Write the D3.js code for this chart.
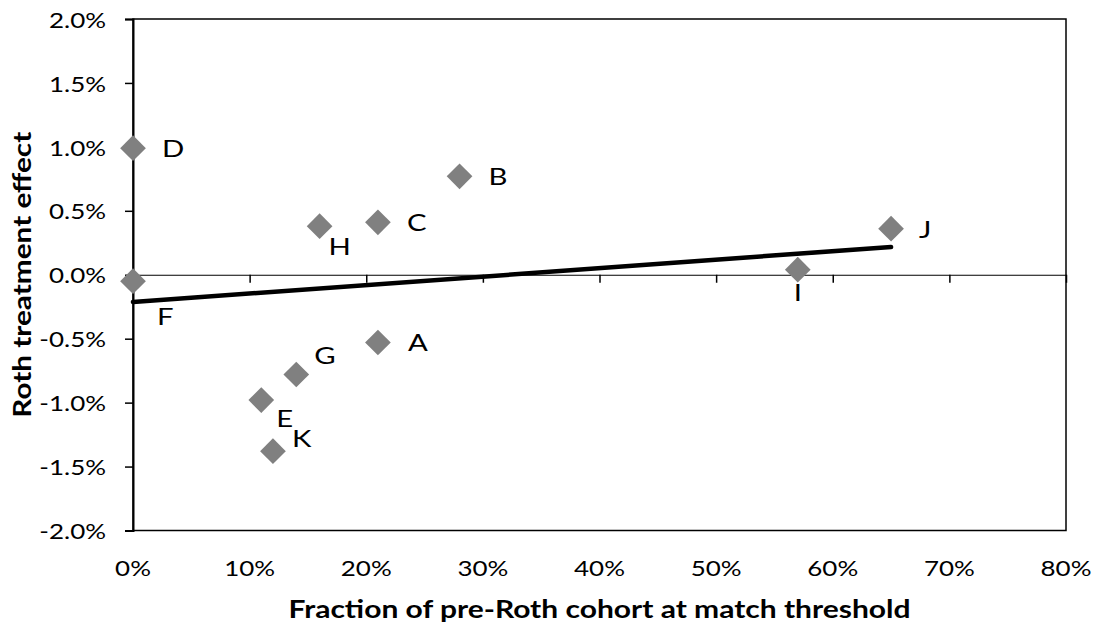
<!DOCTYPE html>
<html>
<head>
<meta charset="utf-8">
<script src="https://cdn.jsdelivr.net/npm/d3@7"></script>
<style>
  html, body { margin: 0; padding: 0; background: #fff; }
  svg { display: block; }
  text { font-family: Lato, "Open Sans", sans-serif; fill: #000; }
</style>
</head>
<body>
<svg id="chart" width="1094" height="624"></svg>
<script>
// ---- data ----
const labels  = ["A", "B", "C", "D", "E", "F", "G", "H", "I", "J", "K"];
const xValues = [0.21, 0.28, 0.21, 0.00, 0.11, 0.00, 0.14, 0.16, 0.57, 0.65, 0.12];
const yValues = [-0.0053, 0.0077, 0.0041, 0.0099, -0.0098, -0.0005, -0.0078, 0.0038, 0.0004, 0.0036, -0.0138];
const trendX  = [0.00, 0.65];
const trendY  = [-0.00213, 0.00217];
const xTicks  = [0, 0.1, 0.2, 0.3, 0.4, 0.5, 0.6, 0.7, 0.8];
const yTicks  = [-0.02, -0.015, -0.01, -0.005, 0, 0.005, 0.01, 0.015, 0.02];
const xTitle  = "Fraction of pre-Roth cohort at match threshold";
const yTitle  = "Roth treatment effect";

// ---- layout (label placement offsets, px) ----
const labelOffset = {
  A: [30, 0], B: [29, 0], C: [29, 0], D: [29, 0], J: [28, 0],
  G: [18, -19], H: [9, 20], E: [15, 18], K: [19, -13], F: [24, 35], I: [-4, 22]
};

const plot = { left: 133, right: 1066, top: 19, bottom: 530.5 };
const svg = d3.select("#chart");

const x = d3.scaleLinear().domain([0, 0.8]).range([plot.left, plot.right]);
const y = d3.scaleLinear().domain([-0.02, 0.02]).range([plot.bottom, plot.top]);

const loc = d3.formatLocale({ decimal: ".", thousands: ",", grouping: [3], currency: ["$", ""], minus: "-", percent: "%" });

function place(sel, px, py, sx, rot) {
  sel.attr("x", 0).attr("y", 0)
     .attr("transform", `translate(${px},${py})` + (rot ? ` rotate(${rot})` : "") + ` scale(${sx},1)`);
  return sel;
}

// plot border
svg.append("rect")
  .attr("x", plot.left).attr("y", plot.top)
  .attr("width", plot.right - plot.left).attr("height", plot.bottom - plot.top)
  .attr("fill", "none").attr("stroke", "#000").attr("stroke-width", 1.5);

// y axis (ticks to the left)
const yAxis = d3.axisLeft(y).tickValues(yTicks).tickSize(8).tickFormat("");
const yg = svg.append("g").attr("transform", `translate(${plot.left},0)`).call(yAxis);
yg.select(".domain").attr("stroke-width", 2);
yg.selectAll(".tick line").attr("stroke-width", 1.5);
const yFmt = loc.format(".1%");
yTicks.forEach(v => {
  place(svg.append("text"), 106, y(v), 1.18, 0)
    .attr("text-anchor", "end").attr("dominant-baseline", "central")
    .style("font-size", "22px").text(yFmt(v));
});

// horizontal zero axis with ticks downward
const xAxis = d3.axisBottom(x).tickValues(xTicks).tickSize(8).tickFormat("").tickSizeOuter(0);
const xg = svg.append("g").attr("transform", `translate(0,${y(0)})`).call(xAxis);
xg.select(".domain").attr("stroke-width", 1.2);
xg.selectAll(".tick line").attr("stroke-width", 1.5);
const xFmt = loc.format(".0%");
xTicks.forEach(v => {
  place(svg.append("text"), x(v), 567, 1.18, 0)
    .attr("text-anchor", "middle").attr("dominant-baseline", "central")
    .style("font-size", "22px").text(xFmt(v));
});

// trend line
svg.append("path")
  .datum(trendX.map((v, i) => [v, trendY[i]]))
  .attr("d", d3.line().x(d => x(d[0])).y(d => y(d[1])))
  .attr("fill", "none").attr("stroke", "#000").attr("stroke-width", 4.5)
  .attr("stroke-linecap", "round");

// markers
const pts = labels.map((l, i) => ({ label: l, x: xValues[i], y: yValues[i] }));
const diamond = d3.symbol().type(d3.symbolSquare).size(330);
svg.append("g").selectAll("path").data(pts).join("path")
  .attr("d", diamond)
  .attr("transform", d => `translate(${x(d.x)},${y(d.y)}) rotate(45)`)
  .attr("fill", "#808080");

// point labels
pts.forEach(d => {
  const o = labelOffset[d.label];
  place(svg.append("text"), x(d.x) + o[0], y(d.y) + o[1], 1.22, 0)
    .attr("dominant-baseline", "central")
    .style("font-size", "24px").text(d.label);
});

// axis titles
place(svg.append("text"), (plot.left + plot.right) / 2, 609, 1.25, 0)
  .attr("text-anchor", "middle").attr("dominant-baseline", "central")
  .style("font-size", "24px").style("font-weight", "bold").text(xTitle);

place(svg.append("text"), 21, (plot.top + plot.bottom) / 2, 1.19, -90)
  .attr("text-anchor", "middle").attr("dominant-baseline", "central")
  .style("font-size", "25px").style("font-weight", "bold").text(yTitle);
</script>
</body>
</html>
